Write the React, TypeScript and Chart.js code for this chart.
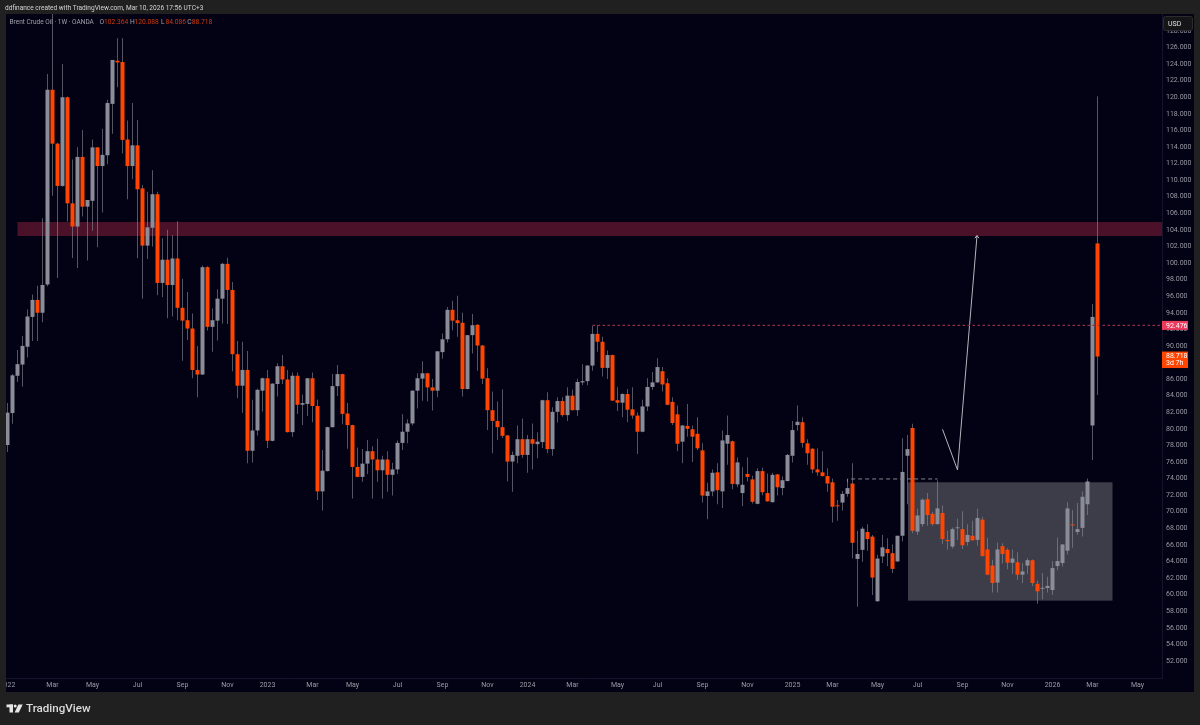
import React, { useEffect, useRef } from "react";
import { Chart, registerables } from "chart.js";

Chart.register(...registerables);

const opens = [
  78.05,81.9,86.4,87.75,89.9,93.5,95.55,94,97.4,120.9,
  114.4,109.3,120,107.2,104.4,112.8,106.8,107.5,113.95,111.7,
  113,119.2,124.4,124.25,114.9,111.7,114.2,109,102.1,104.25,
  108.3,97.6,100.4,97.35,100.55,94.6,93.1,92.1,87.1,86.55,
  99.5,92.3,93.05,95.7,99.9,96.75,89,85.2,87.1,77.35,
  79.8,84.6,86.1,78.55,85.4,87.55,85.95,79.6,86.4,82.9,
  83,86.1,82.75,72.45,74.9,80.2,85.15,86.6,81.85,80.45,
  75.4,74.2,75.8,77.3,76.3,75,76.3,74.45,75.1,78.3,
  79.65,80.65,84.6,86.05,86.7,85,84.6,89.25,90.8,94.35,
  93.1,92.8,84.8,91.3,92.55,90.05,86.1,82.25,80.95,80.2,
  79.2,76.05,76.75,78.75,76.85,78.75,78.15,78.4,83.45,77.55,
  82.05,83.35,81.65,84,82.25,85.6,85.75,87.63,91.45,90.5,
  87.35,88.9,83.45,83.15,84.2,82.35,81.6,79.65,82.7,85.05,
  85.6,86.95,85.5,83.25,81.75,78.45,80.35,79.95,79.4,77.4,
  71.9,72.45,74.75,72.45,78.2,78.5,73.3,72.25,74.55,73.9,
  70.95,74.9,72.25,71.15,74.5,72.85,73.7,76.75,80.45,80.8,
  78.25,77.6,75.1,74.75,74.3,73.55,70.75,71.1,72.15,73.4,
  64.3,65.4,67.55,67,59.2,64.6,65.5,65,64,67.1,
  76.75,80.1,67.6,68.5,71.5,69.75,68.5,69.85,66.6,65.8,
  68,67.9,66.35,67.1,66.6,69.05,65.45,63.5,61.45,65.85,
  65.4,63.85,63.9,62.4,63.5,64.15,61.3,60.7,60.8,60.55,
  63.45,63.8,65.3,68.4,67.55,68.05,70.9,80.4,102.364,
];
const closes = [
  81.95,86.45,87.8,90,93.55,95.55,94,97.35,120.9,114.4,
  109.3,120,107.2,104.4,112.8,106.8,107.6,113.95,111.7,113.05,
  119.3,124.5,124.2,114.85,111.7,114.2,108.9,102.1,104.3,108.3,
  97.6,100.4,97.35,100.55,94.6,93.05,92.1,87.1,86.55,99.5,
  92.3,93.1,95.7,99.9,96.75,89,85.2,87.1,77.35,79.8,
  84.7,86.1,78.55,85.45,87.55,85.95,79.6,86.4,82.9,83.1,
  86.1,82.75,72.45,74.95,80.2,85.15,86.6,81.8,80.45,75.4,
  74.2,75.8,77.3,76.3,75,76.3,74.45,75.1,78.3,79.65,
  80.65,84.6,86.1,86.7,85,84.6,89.35,90.8,94.35,93.05,
  92.75,84.8,91.3,92.5,90.05,86.05,82.25,80.95,80.2,79.15,
  76.05,76.85,78.75,76.85,78.75,78.2,78.45,83.45,77.55,82.05,
  83.35,81.65,84,82.25,85.65,85.75,87.63,91.45,90.5,87.35,
  88.9,83.4,83.15,84.2,82.3,81.6,79.65,82.7,85.05,85.6,
  87.45,85.35,82.9,80.7,78.2,80.4,80,79.05,77.65,71.95,
  72.45,74.7,72.6,78.6,79.25,73.35,75.95,73.25,74.2,71.2,
  74.9,72.35,71.25,74.45,72.95,73.8,76.85,79.85,80.85,78.3,
  77.05,75.1,74.75,74.3,73.4,70.6,70.65,72.15,72.85,66.25,
  64.9,67.95,66.7,62.05,64.35,65.7,65,63.1,67.1,74.8,
  77.55,67.7,69.55,71.45,69.6,68.5,70.4,66.7,66.45,67.9,
  68.05,65.95,67.2,66.55,69.25,64.65,62.4,61.4,65.45,64.9,
  63.85,64.35,62.4,62.8,64.15,61.4,60.4,60.7,61.05,63.2,
  64.05,66.05,70.4,68.35,67.9,71.8,73.65,93.5,88.718,
];
const highs = [
  83.1,86.6,89.5,91.2,94.4,96.2,97.25,105.4,122.8,131,
  114.5,124,120.1,112.5,113.96,116.05,107.6,114.9,114,116.2,
  119.7,124.5,127.1,127.1,117.2,119.3,117.25,109.4,108.6,111.2,
  108.6,103,104,103.35,105.05,98.1,96.5,93.9,90,99.7,
  99.6,94.5,96.85,100,100.65,97.7,90.6,90.5,89.4,83.5,
  84.85,86.2,87.1,85.5,87.9,88.9,87.1,86.8,86.8,84.15,
  86.1,86.8,83.55,77.45,80.25,86.6,87.7,86.65,83.1,80.5,
  77.75,77.55,78.65,77.9,78.8,76.75,77.3,75.9,78.6,81.75,
  81.15,84.65,86.7,88.15,86.75,86,89.35,91.5,94.7,95.45,
  96.05,94,91.3,93.85,92.6,90.1,87.3,84.5,83.3,84.75,
  79.25,77.25,80.4,81.25,79.25,80.65,79.55,83.5,84.4,82.6,
  83.8,83.8,85,84.7,86.05,87.8,87.7,92.4,92.5,91.1,
  89.45,88.95,85,84.3,84.8,85,82,83.5,86.1,86.85,
  88.5,87.45,86.1,83.8,82.8,80.45,83,80.4,81.4,78.25,
  73.5,75.1,75.85,79.8,81.6,78.6,76.55,75.35,76.55,74.35,
  75.25,75.3,74.6,74.7,74.55,74.25,76.95,80.95,82.8,81.4,
  78.75,77.65,77.65,77.3,75.25,74,71.4,72.5,73.9,75.85,
  67.7,68.2,68.5,67.2,64.8,67.2,66.8,66.05,67.1,78.85,
  79.25,80.6,70.4,71.6,72.25,70,73.8,70.75,67.7,68.1,
  69.15,70.05,68.5,68.9,70.35,69.4,66.85,64.2,66.3,66.2,
  65.6,65.45,65.1,63.8,64.4,64.25,61.7,62.6,62.15,64.05,
  66.9,66.1,71.15,70.2,71.05,72.45,74,95.06,120.088,
];
const lows = [
  77.2,80.6,85.65,85.1,88.6,90.6,90.6,92.85,97.2,108.1,
  98.2,109.2,105,100.6,99.4,105.6,100.3,103.9,101.9,106.1,
  111.9,115.6,121.2,113.2,107.7,110.1,100.6,95.7,100.5,102,
  96.1,95.9,93.35,93.55,93.1,88.2,90.7,86.1,83.8,86.5,
  91.85,89.3,90.65,92.7,92.65,86.95,83.7,81.95,75.85,75.95,
  79.2,82.1,77.7,78.5,83.9,85.4,79.55,79.05,81.8,80.45,
  81.55,80.8,71.4,70.15,74.85,80.15,83.95,80.55,77.6,71.6,
  74.15,73.6,74.55,71.6,73.6,71.6,72.4,71.95,74.55,77.45,
  78.25,80.4,82.45,83.4,83.3,82.2,83.8,88.45,90.4,91.9,
  91.1,83.9,84.75,89.1,87,85.4,79.85,77.05,78.65,78.9,
  73.65,72.4,75.85,76.5,74.7,75.1,76.45,77.7,77.05,76.75,
  80.75,81.45,80.95,82.2,81.55,85.3,85.25,87,89.3,86.3,
  86,83.35,82.15,81.4,80.8,81.2,76.95,79.6,82.15,84.7,
  85.55,84.5,82.85,80.45,77.3,75.85,79.05,76,77.45,71.1,
  69.1,71.85,70.9,70.45,75.65,72.7,72.95,70.7,73.65,71,
  70.9,72,71.2,71.1,71.95,72,73.65,75.95,79.8,77.75,
  75.65,74.65,74.35,74.25,72.4,68.7,68.9,70.15,71.8,64.35,
  58.55,63.95,65.3,59.95,59.15,63.8,63.45,62.6,63.95,66.4,
  70.9,67.4,67.2,68.2,68.3,68.3,68.45,66.1,65.45,65.55,
  66.6,65.5,65.9,66.5,65.9,64.6,62.35,60.25,60.25,63.75,
  63.05,62.5,61.8,61.4,62.5,61.05,58.9,59.45,60.25,59.95,
  62.95,63.4,64.85,65.65,67.2,67,69.6,76.25,84.086,
];

const monthLabels = ["2022","Mar","May","Jul","Sep","Nov","2023","Mar","May","Jul","Sep","Nov","2024","Mar","May","Jul","Sep","Nov","2025","Mar","May","Jul","Sep","Nov","2026","Mar","May"];
const monthWeeks = [0,9,17,26,35,44,52,61,69,78,87,96,104,113,122,130,139,148,157,165,174,182,191,200,209,217,226];
const priceTicks = [52,54,56,58,60,62,64,66,68,70,72,74,76,78,80,82,84,86,88,90,92,94,96,98,100,102,104,106,108,110,112,114,116,118,120,122,124,126,128];

const resistanceLevel = 92.476;
const resistanceFromWeek = 117;
const lastWeek = 231;
const zoneTop = 104.95;
const zoneBottom = 103.26;
const zoneFromWeek = 2;
const boxTop = 73.55;
const boxBottom = 59.27;
const boxFromWeek = 180.1;
const boxToWeek = 221;
const stepLevel = 73.95;
const stepFromWeek = 168;
const stepToWeek = 186;
const arrowPath = [
  { x: 187, y: 79.94 }, { x: 190, y: 75.04 }, { x: 193.9, y: 103.3 },
  { x: 193.5, y: 103.0 }, { x: 193.9, y: 103.3 }, { x: 194.3, y: 103.0 },
];

const PANE = "#020214";
const FRAME = "#202020";
const UP = "#8a8c98";
const DOWN = "#ff4500";
const WICK = "rgba(135,138,150,0.62)";
const FONT = "Roboto, 'Liberation Sans', sans-serif";

const App = () => {
  const ref = useRef<HTMLCanvasElement | null>(null);
  useEffect(() => {
    if (!ref.current) return;
    const backdrop = {
      id: "backdrop",
      beforeDraw(c: any) {
        const { ctx, width, height } = c;
        ctx.save();
        ctx.fillStyle = PANE;
        ctx.fillRect(0, 0, width, height);
        ctx.restore();
      },
      beforeDatasetsDraw(c: any) {
        const { ctx, scales: { x, y }, chartArea: a } = c;
        ctx.save();
        ctx.fillStyle = "rgba(145,32,60,0.5)";
        const zx = x.getPixelForValue(zoneFromWeek);
        const zy = y.getPixelForValue(zoneTop);
        ctx.fillRect(zx, zy, a.right - zx, y.getPixelForValue(zoneBottom) - zy);
        ctx.fillStyle = "rgba(220,220,220,0.27)";
        const bx = x.getPixelForValue(boxFromWeek);
        const by = y.getPixelForValue(boxTop);
        ctx.fillRect(bx, by, x.getPixelForValue(boxToWeek) - bx, y.getPixelForValue(boxBottom) - by);
        ctx.restore();
      },
    };
    const chrome = {
      id: "chrome",
      afterDraw(c: any) {
        const { ctx, width, height, scales: { y } } = c;
        ctx.save();
        ctx.fillStyle = FRAME;
        ctx.fillRect(0, 0, width, 14);
        ctx.fillRect(0, 0, 6, height);
        ctx.fillRect(1194, 0, 6, height);
        ctx.fillRect(0, 692, width, 33);

        ctx.textBaseline = "middle";
        ctx.textAlign = "left";
        ctx.fillStyle = "#d4d4d4";
        ctx.font = `6.55px ${FONT}`;
        ctx.fillText("ddfinance created with TradingView.com, Mar 10, 2026 17:56 UTC+3", 5, 8);

        ctx.font = `6.5px ${FONT}`;
        ctx.fillStyle = "#a0a2ac";
        ctx.fillText("Brent Crude Oil · 1W · OANDA", 9.5, 22.5);
        const parts: [string, string, number][] = [
          ["O", "102.364", 99.5], ["H", "120.088", 130], ["L", "84.086", 161], ["C", "88.718", 187.3],
        ];
        ctx.font = `6.7px ${FONT}`;
        parts.forEach(([k, v, px]) => {
          ctx.fillStyle = "#a0a2ac";
          ctx.fillText(k, px, 22.5);
          ctx.fillStyle = "#d03a0c";
          ctx.fillText(v, px + 4.5, 22.5);
        });

        // USD button
        ctx.fillStyle = "#151517";
        ctx.strokeStyle = "#2c2c30";
        ctx.lineWidth = 1;
        ctx.beginPath();
        ctx.roundRect(1163.5, 16.5, 29, 14, 2);
        ctx.fill();
        ctx.stroke();
        ctx.fillStyle = "#e0e0e0";
        ctx.font = `7px ${FONT}`;
        ctx.fillText("USD", 1168, 24);

        // price tags
        const ry = y.getPixelForValue(resistanceLevel);
        ctx.fillStyle = "#ee3a5c";
        ctx.fillRect(1162, ry - 4.5, 26, 9);
        ctx.fillStyle = "#ffffff";
        ctx.fillText(resistanceLevel.toFixed(3), 1166, ry + 0.5);
        const cy = y.getPixelForValue(closes[closes.length - 1]);
        ctx.fillStyle = "#ff4500";
        ctx.fillRect(1162, cy - 5, 26, 16.5);
        ctx.fillStyle = "#ffffff";
        ctx.fillText(closes[closes.length - 1].toFixed(3), 1166, cy - 0.5);
        ctx.fillText("3d 7h", 1166, cy + 7);

        // logo
        ctx.fillStyle = "#e6e6e6";
        ctx.fillRect(6.5, 704.5, 6.5, 2.8);
        ctx.fillRect(9.5, 704.5, 3.5, 8);
        ctx.beginPath();
        ctx.arc(15.2, 706, 1.5, 0, Math.PI * 2);
        ctx.fill();
        ctx.beginPath();
        ctx.moveTo(18.4, 704.5);
        ctx.lineTo(22.7, 704.5);
        ctx.lineTo(18.8, 712.6);
        ctx.lineTo(14.6, 712.6);
        ctx.closePath();
        ctx.fill();
        ctx.font = `500 11.6px ${FONT}`;
        ctx.fillStyle = "#dcdcdc";
        ctx.fillText("TradingView", 26, 709);
        ctx.restore();
      },
    };
    const chart = new Chart(ref.current, {
      type: "bar",
      data: {
        datasets: [
          {
            type: "bar",
            order: 3,
            grouped: false,
            data: opens.map((_, i) => ({ x: i, y: [lows[i], highs[i]] })),
            backgroundColor: WICK,
            barThickness: 1,
            borderWidth: 0,
            inflateAmount: 0,
          } as any,
          {
            type: "bar",
            order: 2,
            grouped: false,
            data: opens.map((o, i) => ({ x: i, y: [o, closes[i]] })),
            backgroundColor: opens.map((o, i) => (closes[i] < o ? DOWN : UP)),
            barThickness: 4,
            minBarLength: 1,
            borderWidth: 0,
            inflateAmount: 0,
          } as any,
          {
            type: "line",
            order: 1,
            data: [{ x: resistanceFromWeek, y: resistanceLevel }, { x: lastWeek, y: resistanceLevel }],
            borderColor: "#962a48",
            borderWidth: 1.2,
            borderDash: [2.5, 2.5],
            pointRadius: 0,
          } as any,
          {
            type: "line",
            order: 1,
            data: [
              { x: stepFromWeek, y: stepLevel - 0.4 },
              { x: stepFromWeek, y: stepLevel },
              { x: stepToWeek, y: stepLevel },
            ],
            borderColor: "#85858f",
            borderWidth: 1,
            borderDash: [4, 3],
            pointRadius: 0,
          } as any,
          {
            type: "line",
            order: 1,
            data: arrowPath,
            borderColor: "#b4b5bd",
            borderWidth: 1,
            pointRadius: 0,
          } as any,
        ],
      },
      options: {
        animation: false,
        responsive: false,
        devicePixelRatio: 1,
        layout: { padding: { left: 6, top: 14, right: 6, bottom: 33 } },
        plugins: { legend: { display: false }, tooltip: { enabled: false } },
        scales: {
          x: {
            type: "linear",
            offset: false,
            min: -0.3,
            max: 230.9,
            afterFit: (s: any) => { s.height = 14; s.paddingLeft = 0; s.paddingRight = 0; },
            afterBuildTicks: (s: any) => { s.ticks = monthWeeks.map((v) => ({ value: v })); },
            grid: { display: false, drawTicks: false },
            border: { color: "#14142c" },
            ticks: {
              autoSkip: false,
              maxRotation: 0,
              padding: 3,
              color: "#9a9ca6",
              font: { size: 7, family: FONT },
              callback: (_v: any, i: number) => monthLabels[i],
            },
          },
          y: {
            type: "linear",
            position: "right",
            min: 49.94,
            max: 130.04,
            afterFit: (s: any) => { s.width = 32; s.paddingTop = 0; s.paddingBottom = 0; },
            afterBuildTicks: (s: any) => { s.ticks = priceTicks.map((v) => ({ value: v })); },
            grid: { display: false, drawTicks: false },
            border: { color: "#14142c" },
            ticks: {
              autoSkip: false,
              padding: 4,
              color: "#9a9ca6",
              font: { size: 7, family: FONT },
              callback: (v: any) => Number(v).toFixed(3),
            },
          },
        },
      },
      plugins: [backdrop, chrome],
    } as any);
    return () => chart.destroy();
  }, []);
  return (
    <div style={{ position: "fixed", left: 0, top: 0, width: 1200, height: 725 }}>
      <canvas ref={ref} width={1200} height={725} style={{ display: "block" }} />
    </div>
  );
};

export default App;
